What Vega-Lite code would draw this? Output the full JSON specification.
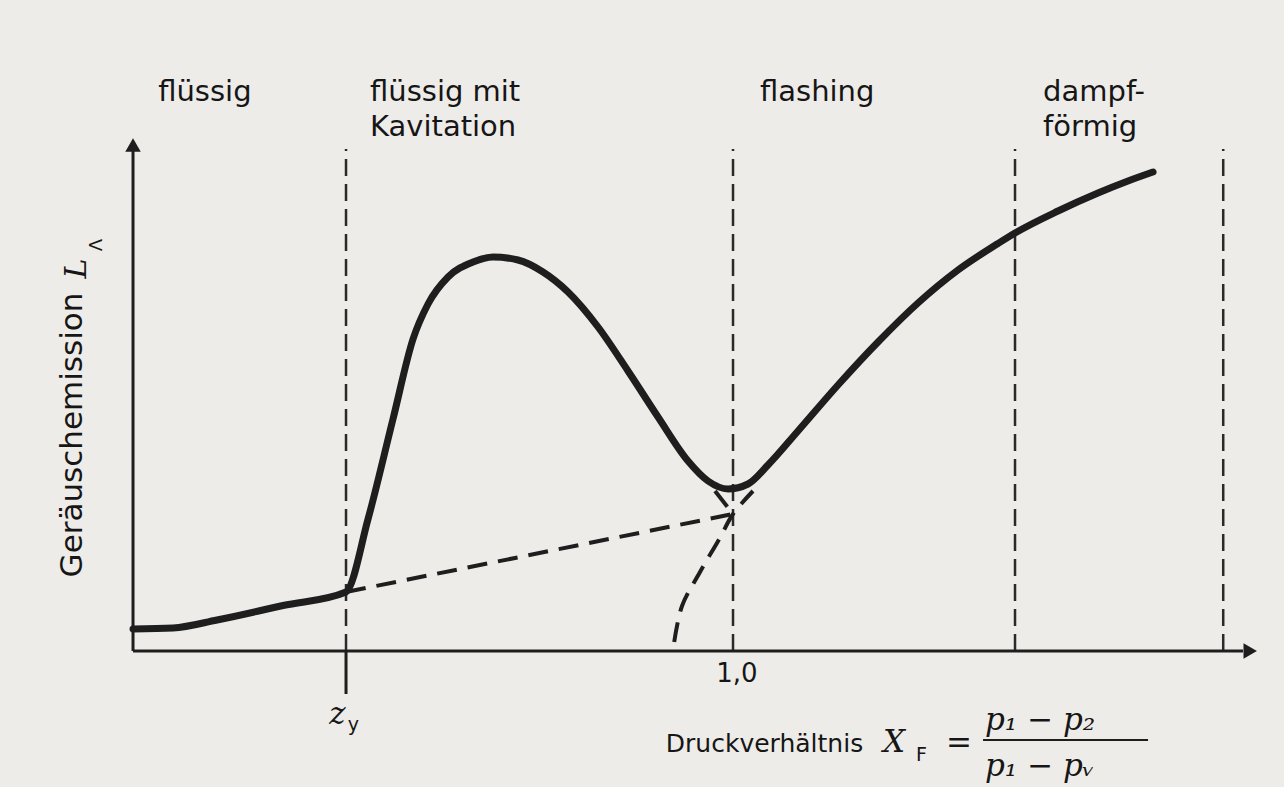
{
  "$schema": "https://vega.github.io/schema/vega-lite/v6.json",
  "width": 1284,
  "height": 787,
  "autosize": {"type": "none"},
  "padding": 0,
  "background": "#eeece8",
  "config": {"view": {"stroke": null}, "axis": {"domain": false}},
  "datasets": {
    "curve": [
      {"x": 0, "y": 0.044}, {"x": 0.0667, "y": 0.046}, {"x": 0.14, "y": 0.062}, {"x": 0.25, "y": 0.091},
      {"x": 0.355, "y": 0.118}, {"x": 0.3917, "y": 0.264}, {"x": 0.4333, "y": 0.464}, {"x": 0.4667, "y": 0.624},
      {"x": 0.4917, "y": 0.694}, {"x": 0.525, "y": 0.748}, {"x": 0.5667, "y": 0.778}, {"x": 0.6, "y": 0.788},
      {"x": 0.6417, "y": 0.782}, {"x": 0.6833, "y": 0.758}, {"x": 0.725, "y": 0.718}, {"x": 0.775, "y": 0.648},
      {"x": 0.825, "y": 0.56}, {"x": 0.875, "y": 0.468}, {"x": 0.925, "y": 0.38}, {"x": 0.9583, "y": 0.34},
      {"x": 0.9917, "y": 0.324}, {"x": 1.025, "y": 0.334}, {"x": 1.0583, "y": 0.372}, {"x": 1.1083, "y": 0.44},
      {"x": 1.175, "y": 0.532}, {"x": 1.2417, "y": 0.618}, {"x": 1.3083, "y": 0.696}, {"x": 1.375, "y": 0.762},
      {"x": 1.4417, "y": 0.815}, {"x": 1.47, "y": 0.836}, {"x": 1.5417, "y": 0.88}, {"x": 1.6083, "y": 0.916},
      {"x": 1.6583, "y": 0.94}, {"x": 1.7, "y": 0.958}
    ],
    "dashed": [
      {"seg": "a", "x": 0.355, "y": 0.118}, {"seg": "a", "x": 1.0, "y": 0.274},
      {"seg": "b", "x": 0.902, "y": 0.018}, {"seg": "b", "x": 0.915, "y": 0.09}, {"seg": "b", "x": 0.945, "y": 0.158},
      {"seg": "b", "x": 0.978, "y": 0.226}, {"seg": "b", "x": 1.0, "y": 0.274}, {"seg": "b", "x": 1.0333, "y": 0.32},
      {"seg": "c", "x": 0.97, "y": 0.32}, {"seg": "c", "x": 1.0, "y": 0.274}
    ],
    "verticals": [
      {"x": 0.355, "y": 0, "y2": 1.004}, {"x": 1.0, "y": 0, "y2": 1.004},
      {"x": 1.47, "y": 0, "y2": 1.004}, {"x": 1.817, "y": 0, "y2": 1.004}
    ],
    "axes": [
      {"x": 0, "x2": 0, "y": 0, "y2": 1.0},
      {"x": 0, "x2": 1.85, "y": 0, "y2": 0},
      {"x": 0.355, "x2": 0.355, "y": 0, "y2": -0.086}
    ],
    "arrows": [
      {"x": 0, "y": 1.012, "dir": "up"},
      {"x": 1.862, "y": 0, "dir": "right"}
    ],
    "labels": [
      {"t": "flüssig", "x": 0.042, "y": 1.118},
      {"t": "flüssig mit", "x": 0.395, "y": 1.118},
      {"t": "Kavitation", "x": 0.395, "y": 1.048},
      {"t": "flashing", "x": 1.045, "y": 1.118},
      {"t": "dampf-", "x": 1.5167, "y": 1.118},
      {"t": "förmig", "x": 1.5167, "y": 1.048}
    ],
    "math": [
      {"t": "X", "x": 1.25, "y": -0.184},
      {"t": "=", "x": 1.355, "y": -0.186},
      {"t": "p₁ − p₂", "x": 1.42, "y": -0.14},
      {"t": "p₁ − pᵥ", "x": 1.42, "y": -0.232},
      {"t": "z", "x": 0.327, "y": -0.128}
    ],
    "subs": [
      {"t": "F", "x": 1.305, "y": -0.208},
      {"t": "y", "x": 0.358, "y": -0.148}
    ],
    "bar": [{"x": 1.4167, "x2": 1.6917, "y": -0.178}]
  },
  "encoding": {
    "x": {"type": "quantitative", "scale": {"domain": [-0.2217, 1.9183], "nice": false, "zero": false}, "axis": null},
    "y": {"type": "quantitative", "scale": {"domain": [-0.272, 1.302], "nice": false, "zero": false}, "axis": null}
  },
  "layer": [
    {
      "data": {"name": "verticals"},
      "mark": {"type": "rule", "strokeDash": [17, 8], "strokeWidth": 2.5, "color": "#2a2a2a"},
      "encoding": {"x": {"field": "x", "type": "quantitative"}, "y": {"field": "y", "type": "quantitative"}, "y2": {"field": "y2"}}
    },
    {
      "data": {"name": "axes"},
      "mark": {"type": "rule", "strokeWidth": 3, "color": "#1e1e1e"},
      "encoding": {"x": {"field": "x", "type": "quantitative"}, "x2": {"field": "x2"}, "y": {"field": "y", "type": "quantitative"}, "y2": {"field": "y2"}}
    },
    {
      "data": {"name": "arrows"},
      "mark": {"type": "point", "filled": true, "opacity": 1, "color": "#1e1e1e", "size": 240},
      "encoding": {
        "x": {"field": "x", "type": "quantitative"},
        "y": {"field": "y", "type": "quantitative"},
        "shape": {"field": "dir", "type": "nominal", "scale": {"domain": ["up", "right"], "range": ["triangle-up", "triangle-right"]}, "legend": null}
      }
    },
    {
      "data": {"name": "dashed"},
      "mark": {"type": "line", "strokeDash": [20, 11], "strokeWidth": 4, "color": "#1e1e1e", "interpolate": "catmull-rom"},
      "encoding": {"x": {"field": "x", "type": "quantitative"}, "y": {"field": "y", "type": "quantitative"}, "detail": {"field": "seg"}}
    },
    {
      "data": {"name": "curve"},
      "mark": {"type": "line", "strokeWidth": 7, "color": "#1e1e1e", "interpolate": "monotone", "strokeJoin": "round", "strokeCap": "round"},
      "encoding": {"x": {"field": "x", "type": "quantitative"}, "y": {"field": "y", "type": "quantitative"}}
    },
    {
      "data": {"name": "labels"},
      "mark": {"type": "text", "font": "DejaVu Sans", "fontSize": 29, "align": "left", "baseline": "middle", "color": "#161616"},
      "encoding": {"x": {"field": "x", "type": "quantitative"}, "y": {"field": "y", "type": "quantitative"}, "text": {"field": "t"}}
    },
    {
      "data": {"values": [{"t": "1,0", "x": 0.972, "y": -0.046}]},
      "mark": {"type": "text", "font": "DejaVu Sans", "fontSize": 26, "align": "left", "baseline": "middle", "color": "#161616"},
      "encoding": {"x": {"field": "x", "type": "quantitative"}, "y": {"field": "y", "type": "quantitative"}, "text": {"field": "t"}}
    },
    {
      "data": {"values": [{"t": "Druckverhältnis", "x": 0.888, "y": -0.186}]},
      "mark": {"type": "text", "font": "DejaVu Sans", "fontSize": 25, "align": "left", "baseline": "middle", "color": "#161616"},
      "encoding": {"x": {"field": "x", "type": "quantitative"}, "y": {"field": "y", "type": "quantitative"}, "text": {"field": "t"}}
    },
    {
      "data": {"values": [{"t": "Geräuschemission", "x": -0.1, "y": 0.432}]},
      "mark": {"type": "text", "font": "DejaVu Sans", "fontSize": 31, "angle": 270, "align": "center", "baseline": "middle", "color": "#161616"},
      "encoding": {"x": {"field": "x", "type": "quantitative"}, "y": {"field": "y", "type": "quantitative"}, "text": {"field": "t"}}
    },
    {
      "data": {"values": [{"t": "L", "x": -0.093, "y": 0.765}]},
      "mark": {"type": "text", "font": "DejaVu Serif", "fontStyle": "italic", "fontSize": 30, "angle": 270, "align": "center", "baseline": "middle", "color": "#161616"},
      "encoding": {"x": {"field": "x", "type": "quantitative"}, "y": {"field": "y", "type": "quantitative"}, "text": {"field": "t"}}
    },
    {
      "data": {"values": [{"t": "Λ", "x": -0.06, "y": 0.812}]},
      "mark": {"type": "text", "font": "DejaVu Sans", "fontSize": 18, "angle": 270, "align": "center", "baseline": "middle", "color": "#161616"},
      "encoding": {"x": {"field": "x", "type": "quantitative"}, "y": {"field": "y", "type": "quantitative"}, "text": {"field": "t"}}
    },
    {
      "data": {"name": "math"},
      "mark": {"type": "text", "font": "DejaVu Serif", "fontStyle": "italic", "fontSize": 31, "align": "left", "baseline": "middle", "color": "#161616"},
      "encoding": {"x": {"field": "x", "type": "quantitative"}, "y": {"field": "y", "type": "quantitative"}, "text": {"field": "t"}}
    },
    {
      "data": {"name": "subs"},
      "mark": {"type": "text", "font": "DejaVu Sans", "fontSize": 19, "align": "left", "baseline": "middle", "color": "#161616"},
      "encoding": {"x": {"field": "x", "type": "quantitative"}, "y": {"field": "y", "type": "quantitative"}, "text": {"field": "t"}}
    },
    {
      "data": {"name": "bar"},
      "mark": {"type": "rule", "strokeWidth": 2, "color": "#1e1e1e"},
      "encoding": {"x": {"field": "x", "type": "quantitative"}, "x2": {"field": "x2"}, "y": {"field": "y", "type": "quantitative"}}
    }
  ]
}
